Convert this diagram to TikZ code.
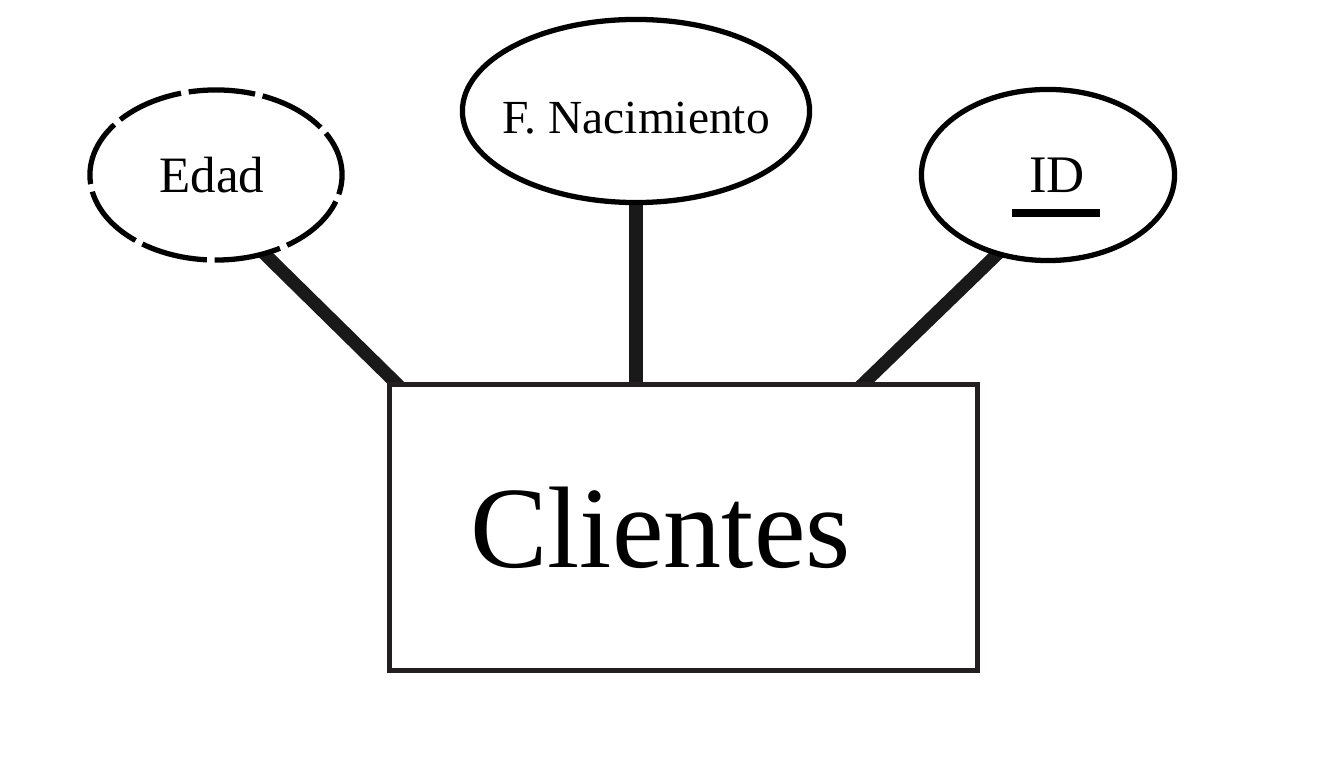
\documentclass[tikz,border=0pt]{standalone}
\usepackage{fontspec}
\setmainfont{Liberation Serif}
\usetikzlibrary{shapes.geometric,backgrounds}
\definecolor{borde}{RGB}{35,31,32}
\tikzset{
	atributo/.style={draw=black, fill=white, ellipse, line width=1.5pt, inner sep=0pt},
	entidad/.style={draw=borde, fill=white, rectangle, line width=1.4pt, inner sep=0pt,
		minimum width=5.87cm, minimum height=2.85cm, font=\fontsize{33}{36}\selectfont},
	enlace/.style={line width=3.7pt, color=black!90, shorten <=-0.07cm, shorten >=-0.07cm}
}

\begin{document}
\begin{tikzpicture}[x=0.01cm, y=-0.01cm]
			%%%%% START %%%%%
			\useasboundingbox (0, 0) rectangle (1344, 761);
			
			\node[entidad] (clientes) at (683.5, 527.5) {\hspace*{-0.46cm}Clientes};
			
			\node[atributo, dash pattern=on 19pt off 2.2pt, dash phase=6pt, minimum width=2.52cm, minimum height=1.70cm,
				font=\fontsize{14.5}{16}\selectfont] (edad) at (216, 175) {\hspace*{-0.08cm}Edad};
			\node[atributo, minimum width=3.47cm, minimum height=1.83cm,
				font=\fontsize{13.5}{16}\selectfont] (fnac) at (636, 111) {\makebox[0pt]{\raisebox{-0.225cm}[0pt][0pt]{F. Nacimiento}}};
			\node[atributo, minimum width=2.53cm, minimum height=1.71cm,
				font=\fontsize{15}{16}\selectfont] (id) at (1048, 175) {\hspace*{0.18cm}ID};
			
			% clave primaria
			\draw[line width=2.5pt] ([xshift=-0.36cm, yshift=-0.38cm]id.center) -- ([xshift=0.52cm, yshift=-0.38cm]id.center);
			
			\begin{pgfonlayer}{background}
				\draw[enlace] (edad.-58) -- ([xshift=0.08cm]clientes.north west);
				\draw[enlace] (fnac.south) -- (fnac.south |- clientes.north);
				\draw[enlace] (id.-123) -- ([xshift=-1.15cm]clientes.north east);
			\end{pgfonlayer}
			
			%%%%% END %%%%%
\end{tikzpicture}
\end{document}
